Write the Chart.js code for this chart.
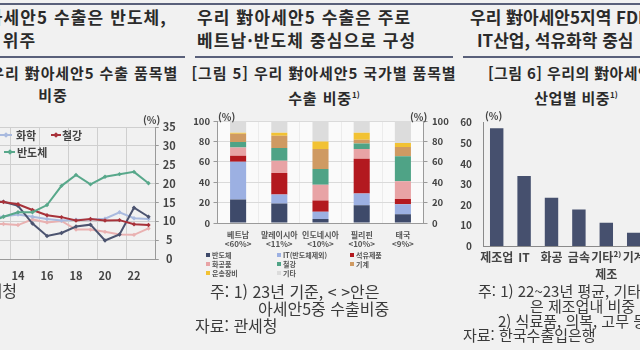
<!DOCTYPE html>
<html lang="ko">
<head>
<meta charset="utf-8">
<script src="https://cdn.jsdelivr.net/npm/chart.js@4.4.1/dist/chart.umd.min.js"></script>
<style>
  html, body { margin: 0; padding: 0; }
  body {
    width: 640px; height: 350px; overflow: hidden; position: relative;
    background: #f1f1f1; color: #333;
    font-family: "Noto Sans CJK KR", "Noto Sans", sans-serif;
  }
  .abs { position: absolute; white-space: nowrap; }
  .rule { position: absolute; height: 2px; background: #59607a; }
  .head { font-size: 17px; font-weight: 700; letter-spacing: 1.1px; line-height: 23px; color: #2a2a2a; }
  .fig { font-size: 15px; font-weight: 700; letter-spacing: 0.9px; line-height: 22px; color: #2a2a2a; text-align: center; width: 400px; }
  .fig sup { font-size: 8px; vertical-align: 6px; letter-spacing: 0; }
  .note { font-size: 16px; line-height: 16px; color: #3a3a3a; }
  .note.sm { font-size: 15px; }
  .unit { font-size: 10px; font-weight: 700; color: #444; }
  .leg { font-size: 11px; font-weight: 700; color: #444; line-height: 14px; }
  .sleg { font-size: 7px; font-weight: 700; color: #555; line-height: 9px; }
  .sleg i { display: inline-block; width: 4px; height: 4px; margin-right: 2px; vertical-align: 1px; }
  .lk { position: absolute; height: 2px; }
  .dm { position: absolute; width: 4px; height: 4px; transform: rotate(45deg); }
  canvas { position: absolute; }
</style>
</head>
<body>

<div class="rule" style="left:0; top:3px; width:640px;"></div>
<div class="rule" style="left:0; top:56px; width:185px; height:1.5px;"></div>
<div class="rule" style="left:195px; top:56px; width:258px; height:1.5px;"></div>
<div class="rule" style="left:463px; top:56px; width:177px; height:1.5px;"></div>

<!-- section headers -->
<div class="abs head" style="right:473px; top:5px;">우리 對아세안5 수출은 반도체,</div>
<div class="abs head" style="left:-70px; top:28px;">석유제품 위주</div>
<div class="abs head" style="left:197px; top:5px;">우리 對아세안5 수출은 주로</div>
<div class="abs head" style="left:197px; top:28px;">베트남·반도체 중심으로 구성</div>
<div class="abs head" style="left:470px; top:5px; letter-spacing:0;">우리 對아세안5지역 FDI 투자는</div>
<div class="abs head" style="left:477px; top:28px; letter-spacing:0;">IT산업, 석유화학 중심</div>

<!-- figure titles -->
<div class="abs fig" style="left:-147px; top:62px;">[그림 4] 우리 對아세안5 수출 품목별<br>비중</div>
<div class="abs fig" style="left:124px; top:62px;">[그림 5] 우리 對아세안5 국가별 품목별<br>수출 비중<sup>1)</sup></div>
<div class="abs fig" style="left:488px; top:62px; width:auto; letter-spacing:0.4px;">[그림 6] 우리의 對아세안5 FDI</div>
<div class="abs fig" style="left:376px; top:84px; letter-spacing:0.4px;">산업별 비중<sup>1)</sup></div>

<canvas id="itemChart" width="250" height="180" style="left:-60px; top:110px;"></canvas>
<canvas id="countryChart" width="260" height="150" style="left:190px; top:105px;"></canvas>
<canvas id="fdiChart" width="220" height="190" style="left:440px; top:105px;"></canvas>

<!-- units -->
<div class="abs unit" style="left:143px; top:112px;">(%)</div>
<div class="abs unit" style="left:218px; top:109px;">(%)</div>
<div class="abs unit" style="left:410px; top:109px;">(%)</div>
<div class="abs unit" style="left:485px; top:108px;">(%)</div>

<!-- left chart legend -->
<div class="lk" style="left:0; top:134px; width:12px; background:#a9badf;"></div>
<div class="dm" style="left:4px; top:133px; background:#a9badf;"></div>
<div class="abs leg" style="left:16px; top:128px;">화학</div>
<div class="lk" style="left:51px; top:134px; width:10px; background:#a8323a;"></div>
<div class="dm" style="left:54px; top:133px; background:#a8323a;"></div>
<div class="abs leg" style="left:62px; top:128px;">철강</div>
<div class="lk" style="left:4px; top:151px; width:11px; background:#58a88b;"></div>
<div class="dm" style="left:7.5px; top:150px; background:#58a88b;"></div>
<div class="abs leg" style="left:17px; top:145px;">반도체</div>

<!-- middle chart legend -->
<div class="abs sleg" style="left:206px; top:251px;"><i style="background:#3e4a6a"></i>반도체</div>
<div class="abs sleg" style="left:277px; top:251px;"><i style="background:#9cb0e2"></i>IT(반도체제외)</div>
<div class="abs sleg" style="left:350px; top:251px;"><i style="background:#b3191f"></i>석유제품</div>
<div class="abs sleg" style="left:206px; top:260px;"><i style="background:#e8a3a5"></i>화공품</div>
<div class="abs sleg" style="left:277px; top:260px;"><i style="background:#4fa386"></i>철강</div>
<div class="abs sleg" style="left:350px; top:260px;"><i style="background:#cf9a62"></i>기계</div>
<div class="abs sleg" style="left:206px; top:269px;"><i style="background:#f2c233"></i>운송장비</div>
<div class="abs sleg" style="left:277px; top:269px;"><i style="background:#dcdcdc"></i>기타</div>

<!-- notes -->
<div class="abs note" style="right:623px; top:282px;">자료: 관세청</div>
<div class="abs note" style="left:210px; top:283px;">주: 1) 23년 기준, &lt; &gt;안은</div>
<div class="abs note" style="left:258px; top:300px;">아세안5중 수출비중</div>
<div class="abs note" style="left:195px; top:317px;">자료: 관세청</div>
<div class="abs note sm" style="left:478px; top:283px;">주: 1) 22~23년 평균, 기타는</div>
<div class="abs note sm" style="left:530px; top:298px;">은 제조업내 비중</div>
<div class="abs note sm" style="left:498px; top:312.5px;">2) 식료품, 의복, 고무 등</div>
<div class="abs note sm" style="left:463px; top:327px;">자료: 한국수출입은행</div>

<script>
// ---- data: export share by item (%)
const lineYears = ['12', '13', '14', '15', '16', '17', '18', '19', '20', '21', '22', '23'];
const semiShare = [9.6, 11.2, 12.4, 12.4, 14.3, 19.4, 22.3, 19.8, 21.8, 22.5, 23.1, 20.1];
const steelShare = [15.3, 15.1, 14.5, 13.0, 11.6, 11.1, 10.2, 10.6, 10.2, 10.3, 9.2, 9.0];
const petroShare = [15.0, 15.2, 14.1, 9.4, 6.1, 6.9, 8.6, 9.1, 4.9, 6.5, 13.6, 11.2];
const chemShare = [11.0, 11.3, 11.8, 11.2, 10.6, 10.2, 10.4, 10.5, 10.7, 12.4, 10.8, 10.6];
const autoShare = [9.3, 9.3, 9.0, 10.5, 9.7, 10.1, 7.8, 7.8, 7.2, 6.5, 6.4, 8.1];
const shareTicks = [0, 5, 10, 15, 20, 25, 30, 35];

// ---- data: export mix by country, 2023 (%)
const countries = [['베트남', '<60%>'], ['말레이시아', '<11%>'], ['인도네시아', '<10%>'], ['필리핀', '<10%>'], ['태국', '<9%>']];
const semiByCountry = [23, 19, 4, 17.5, 8.5];
const itByCountry = [37, 9, 7, 11.5, 10];
const petroByCountry = [6, 21, 11, 34, 5];
const chemByCountry = [8, 12, 15.5, 9.5, 17.5];
const steelByCountry = [5.5, 12.5, 15.5, 5.5, 24.5];
const machByCountry = [8, 12, 19.5, 3.5, 9];
const transByCountry = [1, 3, 7.5, 7, 4];
const etcByCountry = [11.5, 11.5, 20, 11.5, 21.5];
const mixTicks = [0, 20, 40, 60, 80, 100];

// ---- data: FDI by industry, 22~23 avg (%)
const industries = ['제조업', 'IT', '화공', '금속', ['기타²⁾', '제조'], '기계'];
const fdiShare = [57.3, 34.1, 23.5, 17.8, 11.3, 6.5];
const fdiTicks = [0, 10, 20, 30, 40, 50, 60];

const FONT = '"Noto Sans CJK KR", "Noto Sans", sans-serif';
Chart.defaults.font.family = FONT;
Chart.defaults.color = '#444';
Chart.defaults.animation = false;
Chart.defaults.plugins.legend.display = false;
Chart.defaults.plugins.tooltip.enabled = false;

function fixTicks(values) {
    return (scale) => { scale.ticks = values.map(v => ({ value: v })); };
}

// fills the plot area before datasets are drawn
const plotBg = {
    id: 'plotBg',
    beforeDraw(chart, args, opts) {
        if (!opts.color) return;
        const a = chart.chartArea;
        chart.ctx.save();
        chart.ctx.fillStyle = opts.color;
        chart.ctx.fillRect(a.left, a.top, a.right - a.left, a.bottom - a.top);
        chart.ctx.restore();
    }
};

function lineSet(label, data, color, order) {
    return {
        label, data, order,
        borderColor: color, backgroundColor: color,
        borderWidth: 2, tension: 0,
        pointStyle: 'rectRot', pointRadius: 2.2, pointBorderWidth: 0
    };
}

// [그림 4] item share lines
new Chart(document.getElementById('itemChart'), {
    type: 'line',
    data: {
        labels: lineYears,
        datasets: [
            lineSet('반도체', semiShare, '#58a88b', 0),
            lineSet('철강', steelShare, '#a8323a', 1),
            lineSet('석유제품', petroShare, '#4c5470', 2),
            lineSet('화학', chemShare, '#a9badf', 3),
            lineSet('자동차', autoShare, '#e9b1b1', 4)
        ]
    },
    options: {
        responsive: false,
        layout: { padding: { left: 41.75, top: 17, right: 0, bottom: 0 } },
        scales: {
            x: {
                offset: true,
                afterFit: (s) => { s.height = 31; },
                grid: {
                    offset: true, drawTicks: false,
                    color: (ctx) => (ctx.index % 2 === 0 ? '#cfcfcf' : 'rgba(0,0,0,0)')
                },
                border: { color: '#9a9a9a' },
                ticks: {
                    autoSkip: false, maxRotation: 0, padding: 10,
                    font: { size: 11, weight: 'bold' }, color: '#444',
                    callback: (v, i) => (Number(lineYears[i]) % 2 === 0 ? lineYears[i] : '')
                }
            },
            y: {
                position: 'right', min: 0, max: 35,
                afterBuildTicks: fixTicks(shareTicks),
                afterFit: (s) => { s.width = 34.25; },
                grid: { color: '#cfcfcf', tickLength: 3, tickColor: '#9a9a9a' },
                border: { color: '#9a9a9a' },
                ticks: {
                    padding: 4, crossAlign: 'center',
                    font: { size: 11, weight: 'bold' }, color: '#444'
                }
            }
        }
    }
});

// [그림 5] stacked item mix per country
const mixSeries = [
    ['반도체', semiByCountry, '#3e4a6a'],
    ['IT(반도체제외)', itByCountry, '#9cb0e2'],
    ['석유제품', petroByCountry, '#b3191f'],
    ['화공품', chemByCountry, '#e8a3a5'],
    ['철강', steelByCountry, '#4fa386'],
    ['기계', machByCountry, '#cf9a62'],
    ['운송장비', transByCountry, '#f2c233'],
    ['기타', etcByCountry, '#dcdcdc']
];

new Chart(document.getElementById('countryChart'), {
    type: 'bar',
    data: {
        labels: countries,
        datasets: mixSeries.map(([label, data, color]) => ({
            label, data, backgroundColor: color,
            categoryPercentage: 1, barPercentage: 0.39
        }))
    },
    options: {
        responsive: false,
        layout: { padding: { left: 0, top: 16, right: 0, bottom: 0 } },
        plugins: { plotBg: { color: '#fafafa' } },
        scales: {
            x: {
                stacked: true,
                afterFit: (s) => { s.height = 32; },
                grid: { drawTicks: false, color: '#ececec' },
                border: { color: '#9a9a9a' },
                ticks: { maxRotation: 0, padding: 7, font: { size: 8, weight: 'bold' }, color: '#555' }
            },
            y: {
                stacked: true, min: 0, max: 100,
                afterBuildTicks: fixTicks(mixTicks),
                afterFit: (s) => { s.width = 27.5; },
                grid: { color: '#dadada', tickLength: 4, tickColor: '#9a9a9a' },
                border: { color: '#9a9a9a' },
                ticks: { padding: 3.5, font: { size: 9.5, weight: 'bold' }, color: '#444' }
            },
            y2: {
                position: 'right', min: 0, max: 100,
                afterBuildTicks: fixTicks(mixTicks),
                afterFit: (s) => { s.width = 26.5; },
                grid: { drawOnChartArea: false, tickLength: 4, tickColor: '#9a9a9a' },
                border: { color: '#9a9a9a' },
                ticks: { padding: 4.5, font: { size: 9.5, weight: 'bold' }, color: '#444' }
            }
        }
    },
    plugins: [plotBg]
});

// [그림 6] FDI share by industry
new Chart(document.getElementById('fdiChart'), {
    type: 'bar',
    data: {
        labels: industries,
        datasets: [{
            label: 'FDI', data: fdiShare, backgroundColor: '#46506e',
            categoryPercentage: 1, barPercentage: 0.49
        }]
    },
    options: {
        responsive: false,
        layout: { padding: { left: 0, top: 17.7, right: 12.6, bottom: 0 } },
        scales: {
            x: {
                afterFit: (s) => { s.height = 49; },
                grid: { display: false, drawTicks: false },
                border: { color: '#8a8a8a' },
                ticks: {
                    autoSkip: false, maxRotation: 0, padding: 2.5,
                    font: { size: 12, weight: 'bold', lineHeight: '17px' }, color: '#444'
                }
            },
            y: {
                min: 0, max: 60,
                afterBuildTicks: fixTicks(fdiTicks),
                afterFit: (s) => { s.width = 43; },
                grid: { display: false, drawOnChartArea: false, tickLength: 5, tickColor: '#8a8a8a' },
                border: { color: '#8a8a8a' },
                ticks: { padding: 6, font: { size: 10, weight: 'bold' }, color: '#444' }
            }
        }
    }
});
</script>
</body>
</html>
